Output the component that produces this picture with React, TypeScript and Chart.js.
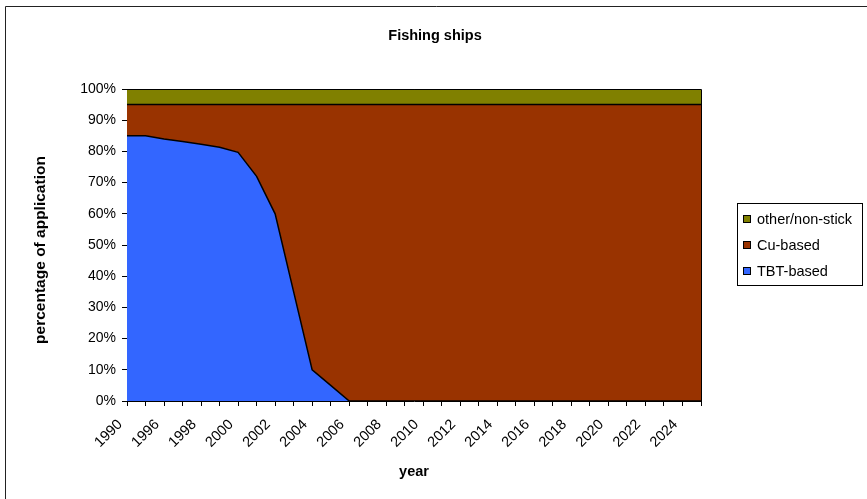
import React, { useEffect, useRef } from "react";
import { Chart, registerables } from "chart.js";

Chart.register(...registerables);

const years = [
  "1990", "1995", "1996", "1997", "1998", "1999", "2000", "2001", "2002", "2003",
  "2004", "2005", "2006", "2007", "2008", "2009", "2010", "2011", "2012", "2013",
  "2014", "2015", "2016", "2017", "2018", "2019", "2020", "2021", "2022", "2023",
  "2024", "2025",
];

const tbtBased = [
  85, 85, 84, 83.2, 82.3, 81.3, 79.7, 72, 60, 35, 10, 5, 0, 0, 0, 0, 0, 0, 0, 0,
  0, 0, 0, 0, 0, 0, 0, 0, 0, 0, 0, 0,
];

const cuBased = [
  10, 10, 11, 11.8, 12.7, 13.7, 15.3, 23, 35, 60, 85, 90, 95, 95, 95, 95, 95, 95, 95, 95,
  95, 95, 95, 95, 95, 95, 95, 95, 95, 95, 95, 95,
];

const otherNonStick = [
  5, 5, 5, 5, 5, 5, 5, 5, 5, 5, 5, 5, 5, 5, 5, 5, 5, 5, 5, 5,
  5, 5, 5, 5, 5, 5, 5, 5, 5, 5, 5, 5,
];

const yTicks = [0, 10, 20, 30, 40, 50, 60, 70, 80, 90, 100];

const seriesNames = ["TBT-based", "Cu-based", "other/non-stick"];
const seriesColors = ["#3366FF", "#993300", "#808000"];

const chartTitle = "Fishing ships";
const xTitle = "year";
const yTitle = "percentage of application";

const FONT = "'Liberation Sans', Arial, sans-serif";

const decorPlugin = {
  id: "decor",
  afterDraw(chart: any) {
    const ctx = chart.ctx;
    const ca = chart.chartArea;
    ctx.save();
    // plot frame (top & right)
    ctx.strokeStyle = "#000";
    ctx.lineWidth = 1;
    ctx.beginPath();
    ctx.moveTo(ca.left, ca.top + 0.5);
    ctx.lineTo(ca.right + 0.5, ca.top + 0.5);
    ctx.lineTo(ca.right + 0.5, ca.bottom);
    ctx.stroke();

    // outer chart border (top, left)
    ctx.strokeStyle = "#222";
    ctx.beginPath();
    ctx.moveTo(5.5, 499);
    ctx.lineTo(5.5, 6.5);
    ctx.lineTo(867, 6.5);
    ctx.stroke();

    ctx.fillStyle = "#000";
    // title
    ctx.font = `bold 14.5px ${FONT}`;
    ctx.textAlign = "center";
    ctx.textBaseline = "middle";
    ctx.fillText(chartTitle, 435, 36);

    // x title
    ctx.fillText(xTitle, (ca.left + ca.right) / 2, 472);

    // y title
    ctx.save();
    ctx.translate(41, 250);
    ctx.rotate(-Math.PI / 2);
    ctx.font = `bold 15.5px ${FONT}`;
    ctx.fillText(yTitle, 0, 0);
    ctx.restore();

    // legend
    const lx = 737, ly = 203, lw = 125, lh = 82;
    ctx.strokeStyle = "#000";
    ctx.lineWidth = 1;
    ctx.strokeRect(lx + 0.5, ly + 0.5, lw, lh);
    ctx.font = `14.5px ${FONT}`;
    ctx.textAlign = "left";
    const rows = [2, 1, 0];
    const ys = [219, 245, 271];
    rows.forEach((si, i) => {
      const y = ys[i];
      ctx.fillStyle = seriesColors[si];
      ctx.fillRect(743, y - 4, 8, 8);
      ctx.strokeStyle = "#000";
      ctx.strokeRect(743.5, y - 3.5, 7, 7);
      ctx.fillStyle = "#000";
      ctx.fillText(seriesNames[si], 757, y + 1);
    });
    ctx.restore();
  },
};

export default function App() {
  const ref = useRef<HTMLCanvasElement>(null);

  useEffect(() => {
    if (!ref.current) return;
    Chart.defaults.color = "#000";
    const values = [tbtBased, cuBased, otherNonStick];
    const chart = new Chart(ref.current, {
      type: "line",
      data: {
        labels: years,
        datasets: values.map((v, i) => ({
          label: seriesNames[i],
          data: v,
          backgroundColor: seriesColors[i],
          borderColor: "#000",
          borderWidth: 1.5,
          pointRadius: 0,
          tension: 0,
          fill: i === 0 ? "origin" : "-1",
        })),
      },
      options: {
        responsive: false,
        animation: false,
        devicePixelRatio: 1,
        layout: { padding: { left: 0, top: 89, right: 166, bottom: 0 } },
        plugins: {
          legend: { display: false },
          title: { display: false },
          tooltip: { enabled: false },
        },
        scales: {
          x: {
            type: "category",
            offset: false,
            grid: {
              drawOnChartArea: false,
              tickLength: 5,
              tickColor: "#000",
            },
            border: { color: "#000", width: 1 },
            ticks: {
              autoSkip: false,
              maxRotation: 45,
              minRotation: 45,
              padding: 10,
              labelOffset: -7,
              font: { family: FONT, size: 14.5 },
              color: "#000",
              callback: (_v: any, idx: number) => (idx % 2 === 0 ? years[idx] : ""),
            },
            afterFit: (scale: any) => {
              scale.height = 98;
            },
          },
          y: {
            stacked: true,
            min: 0,
            max: 100,
            afterBuildTicks: (scale: any) => {
              scale.ticks = yTicks.map((v) => ({ value: v }));
            },
            grid: {
              drawOnChartArea: false,
              tickLength: 5,
              tickColor: "#000",
            },
            border: { color: "#000", width: 1 },
            ticks: {
              padding: 6,
              font: { family: FONT, size: 14 },
              color: "#000",
              callback: (v: any) => `${v}%`,
            },
            afterFit: (scale: any) => {
              scale.width = 127;
            },
          },
        },
      },
      plugins: [decorPlugin],
    });
    return () => chart.destroy();
  }, []);

  return (
    <div style={{ position: "absolute", left: 0, top: 0, width: 867, height: 499, background: "#fff" }}>
      <canvas ref={ref} width={867} height={499} style={{ display: "block" }} />
    </div>
  );
}
